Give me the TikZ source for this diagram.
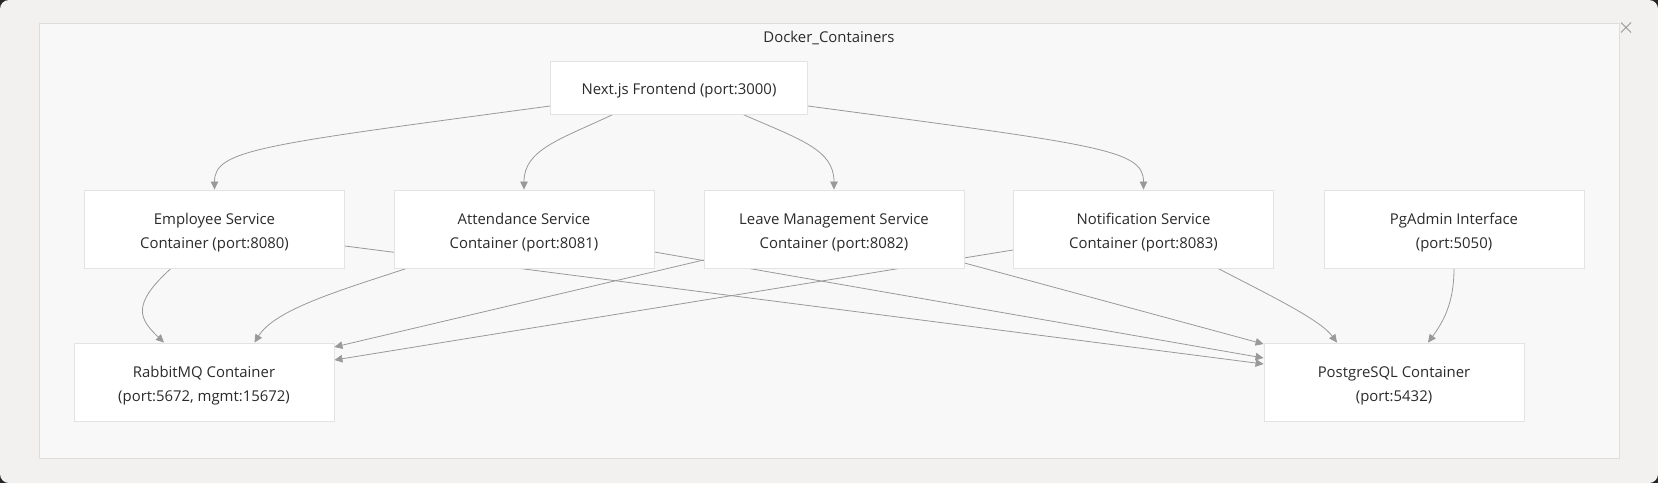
\documentclass[tikz,border=0pt]{standalone}
\usepackage{fontspec}
\setmainfont{Open Sans}
\usepackage{tikz}
\usetikzlibrary{arrows.meta}
\definecolor{winbg}{HTML}{F2F1F0}
\definecolor{clusterbg}{HTML}{F8F8F8}
\definecolor{clusterline}{HTML}{DDDDDD}
\definecolor{boxline}{HTML}{E3E3E3}
\definecolor{edgecol}{HTML}{999999}
\definecolor{txt}{HTML}{2B2B2B}
\pgfdeclarelayer{bg}
\pgfdeclarelayer{edges}
\pgfsetlayers{bg,edges,main}
\tikzstyle{box}=[rectangle,draw=boxline,line width=0.9pt,fill=white,text=txt,align=center,
  minimum width=260pt,minimum height=78pt,font=\fontsize{14.9}{24.3}\selectfont,
  text height=39pt,text depth=0pt]
\tikzstyle{link}=[->,draw=edgecol,line width=0.8pt,>={Triangle[length=8pt,width=7.5pt]}]

\begin{document}
\begin{tikzpicture}[x=1pt,y=-1pt]

  \useasboundingbox (0,0) rectangle (1658,483);

  % nodes
  \node[box,minimum width=257pt,minimum height=53pt,text height=13.6pt] (next) at (679,87.5) {Next.js Frontend (port:3000)};
  \node[box] (emp) at (214.5,229) {Employee Service\\Container (port:8080)};
  \node[box] (att) at (524,229) {Attendance Service\\Container (port:8081)};
  \node[box] (leave) at (834,229) {Leave Management Service\\Container (port:8082)};
  \node[box] (notif) at (1143.5,229) {Notification Service\\Container (port:8083)};
  \node[box] (pga) at (1454,229) {PgAdmin Interface\\(port:5050)};
  \node[box] (rabbit) at (204,382) {RabbitMQ Container\\(port:5672, mgmt:15672)};
  \node[box] (pg) at (1394,382) {PostgreSQL Container\\(port:5432)};

  \begin{pgfonlayer}{bg}
    \fill[black!85] (0,0) rectangle (1658,483);
    \fill[winbg,rounded corners=9pt] (0,0) rectangle (1658,483);
    \filldraw[fill=clusterbg,draw=clusterline,line width=0.9pt] (39,23) rectangle (1619,458);
    \node[text=txt,font=\fontsize{14.9}{18}\selectfont] (title) at (829,37.5) {Docker\_Containers};
    \draw[edgecol,line width=0.8pt] (1621,22.5) -- (1631,32.5) (1631,22.5) -- (1621,32.5);
  \end{pgfonlayer}

  \begin{pgfonlayer}{edges}
  % frontend to services
  \draw[link] ([yshift=-18.5pt]next.west) .. controls +(-290,39) and +(0,-40) .. (emp.north);
  \draw[link] ([xshift=-66pt]next.south) .. controls +(-53,25) and +(0,-40) .. (att.north);
  \draw[link] ([xshift=64pt]next.south) .. controls +(57,25) and +(0,-40) .. (leave.north);
  \draw[link] ([yshift=-18.5pt]next.east) .. controls +(292,39) and +(0,-40) .. (notif.north);
  % services to rabbitmq
  \draw[link] ([xshift=-43.5pt]emp.south) .. controls +(-41,37) and +(-24,-23) .. ([xshift=-40pt]rabbit.north);
  \draw[link] ([xshift=13pt]att.south west) .. controls +(-67,22) and +(20.5,-33) .. ([xshift=50.5pt]rabbit.north);
  \draw[link] ([yshift=-31pt]leave.west) -- ([yshift=35pt]rabbit.east);
  \draw[link] ([yshift=-21pt]notif.west) -- ([yshift=22pt]rabbit.east);
  % services to postgres
  \draw[link] ([yshift=-17pt]emp.east) -- ([yshift=18pt]pg.west);
  \draw[link] ([yshift=-23pt]att.east) -- ([yshift=24pt]pg.west);
  \draw[link] ([yshift=-34pt]leave.east) -- ([yshift=38pt]pg.west);
  \draw[link] ([xshift=74.5pt]notif.south) .. controls +(52,27) and +(-17,-23) .. ([xshift=-57pt]pg.north);
  \draw[link] (pga.south) .. controls +(0,32) and +(17,-23) .. ([xshift=34pt]pg.north);
  \end{pgfonlayer}

\end{tikzpicture}
\end{document}
